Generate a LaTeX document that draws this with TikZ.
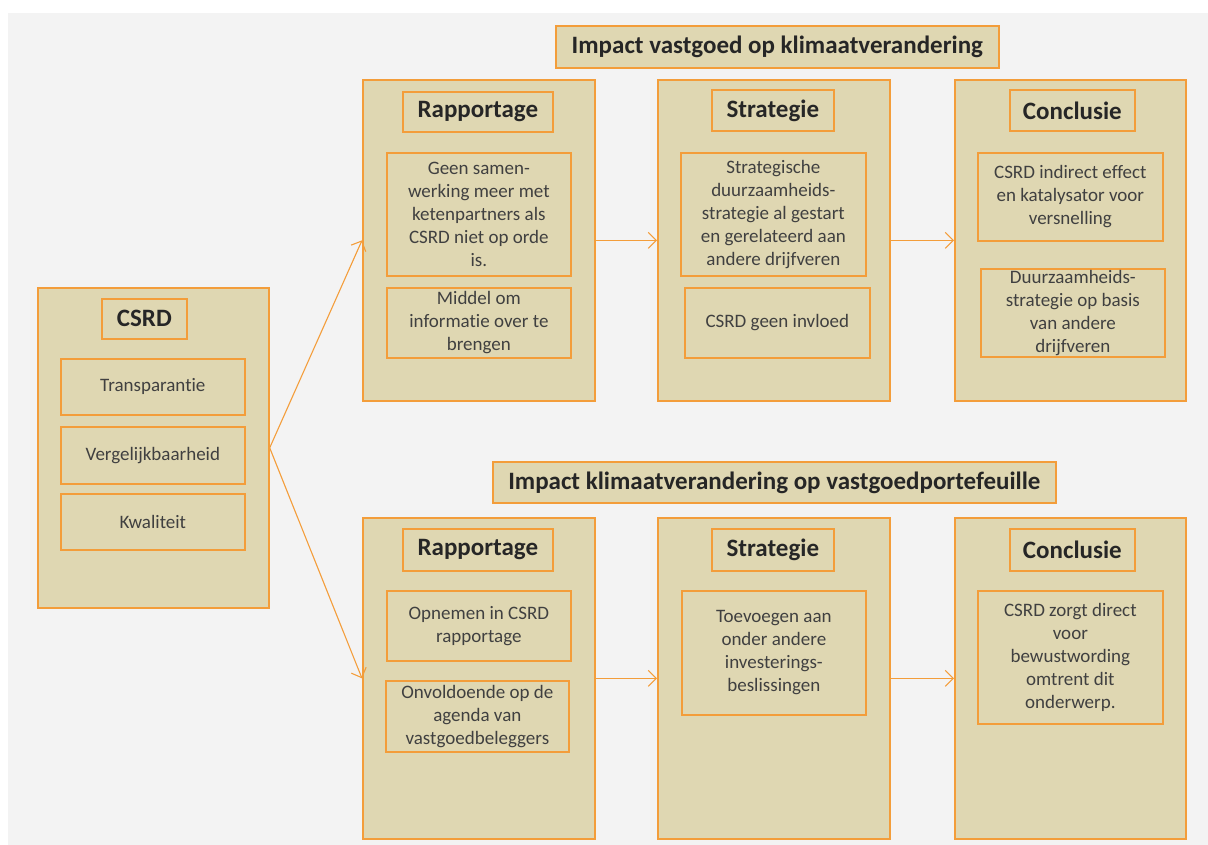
\documentclass[tikz,border=0pt]{standalone}
\usepackage{fontspec}
\setmainfont{Carlito}[RawFeature={-liga;-clig;-calt;-dlig}]
\usetikzlibrary{arrows.meta}
\definecolor{tanfill}{RGB}{223,215,178}
\definecolor{orgline}{RGB}{243,157,58}
\definecolor{bggray}{RGB}{243,243,243}
\definecolor{txtgray}{RGB}{64,64,64}
\definecolor{hdgray}{RGB}{38,38,38}
\begin{document}
\begin{tikzpicture}[x=1pt,y=-1pt,
  box/.style={draw=orgline, fill=tanfill, line width=1.7pt, inner sep=0pt, anchor=north west},
  outerbox/.style={box},
  headbox/.style={box, font=\fontsize{25}{30}\selectfont\bfseries, text=hdgray},
  textbox/.style={box, align=center, font=\fontsize{19}{23}\selectfont, text=txtgray},
  conn/.style={draw=orgline, line width=1.1pt, -{Straight Barb[length=8pt,width=16pt]}}
]
\useasboundingbox (0,0) rectangle (1208,845);
\fill[bggray] (8,13) rectangle (1208,845);

% titles
\node[headbox, minimum width=443, minimum height=42] (t1) at (555,25) {Impact vastgoed op klimaatverandering};
\node[headbox, minimum width=563, minimum height=41] (t2) at (492,461) {Impact klimaatverandering op vastgoedportefeuille};

% CSRD
\node[outerbox, minimum width=231, minimum height=320] (csrd) at (37,287) {};
\node[headbox, minimum width=85, minimum height=40] (csrdh) at (101,298) {CSRD};
\node[textbox, minimum width=184, minimum height=56] (ca) at (60,358) {Transparant\kern0pt ie};
\node[textbox, minimum width=184, minimum height=57] (cb) at (60,426) {Vergelijkbaarheid};
\node[textbox, minimum width=184, minimum height=56] (cc) at (60,493) {Kwaliteit};

% top row
\node[outerbox, minimum width=232, minimum height=321] (r1) at (362,79) {};
\node[outerbox, minimum width=232, minimum height=321] (s1) at (657,79) {};
\node[outerbox, minimum width=231, minimum height=321] (c1) at (954,79) {};
\node[headbox, minimum width=150, minimum height=40] (r1h) at (402,91) {Rapportage};
\node[headbox, minimum width=122, minimum height=41] (s1h) at (711,89) {Strategie};
\node[headbox, minimum width=125, minimum height=41] (c1h) at (1009,89) {Conclusie};
\node[textbox, minimum width=184, minimum height=123] (r1a) at (386,152) {Geen samen-\\werking meer met\\ketenpartners als\\CSRD niet op orde\\is.};
\node[textbox, minimum width=184, minimum height=70] (r1b) at (386,287) {Middel om\\informat\kern0pt ie over te\\brengen};
\node[textbox, minimum width=185, minimum height=123] (s1a) at (680,152) {Strategische\\duurzaamheids-\\strategie al gestart\\en gerelateerd aan\\andere drijfveren};
\node[textbox, minimum width=185, minimum height=70] (s1b) at (684,287) {CSRD geen invloed};
\node[textbox, minimum width=185, minimum height=88] (c1a) at (977,152) {CSRD indirect effect\\en katalysator voor\\versnelling};
\node[textbox, minimum width=184, minimum height=88] (c1b) at (980,268) {Duurzaamheids-\\strategie op basis\\van andere\\drijfveren};

% bottom row
\node[outerbox, minimum width=232, minimum height=321] (r2) at (362,517) {};
\node[outerbox, minimum width=232, minimum height=321] (s2) at (657,517) {};
\node[outerbox, minimum width=231, minimum height=321] (c2) at (954,517) {};
\node[headbox, minimum width=150, minimum height=42] (r2h) at (402,528) {Rapportage};
\node[headbox, minimum width=122, minimum height=42] (s2h) at (711,528) {Strategie};
\node[headbox, minimum width=125, minimum height=42] (c2h) at (1009,528) {Conclusie};
\node[textbox, minimum width=184, minimum height=70] (r2a) at (386,590) {Opnemen in CSRD\\rapportage};
\node[textbox, minimum width=183, minimum height=71] (r2b) at (385,680) {Onvoldoende op de\\agenda van\\vastgoedbeleggers};
\node[textbox, minimum width=184, minimum height=124] (s2a) at (681,590) {Toevoegen aan\\onder andere\\investerings-\\beslissingen};
\node[textbox, minimum width=185, minimum height=133] (c2a) at (977,590) {CSRD zorgt direct\\voor\\bewustwording\\omtrent dit\\onderwerp.};

% connectors
\draw[conn] (csrd.east) -- (r1.west);
\draw[conn] (csrd.east) -- (r2.west);
\draw[conn] (r1.east) -- (s1.west);
\draw[conn] (s1.east) -- (c1.west);
\draw[conn] (r2.east) -- (s2.west);
\draw[conn] (s2.east) -- (c2.west);
\end{tikzpicture}
\end{document}
